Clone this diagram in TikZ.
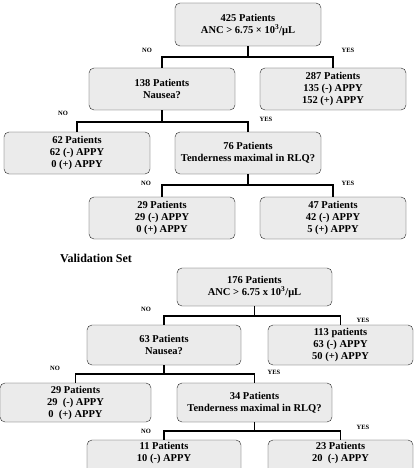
\documentclass[tikz,border=0pt]{standalone}
\usepackage{fontspec}
\setmainfont{Liberation Serif}
\usetikzlibrary{arrows}
\definecolor{boxgray}{HTML}{EBEBEB}
\tikzstyle{leaf} = [draw=black!85, fill=boxgray, rounded corners=5pt, inner sep=1pt,
  align=center, font=\fontsize{10.5}{12}\selectfont\bfseries]
\tikzstyle{edge} = [line width=1.8pt]
\tikzstyle{answer} = [font=\fontsize{6.5}{7}\selectfont\bfseries, inner sep=0pt]

\begin{document}
\begin{tikzpicture}[x=1pt, y=-1pt]
    \clip (0,0) rectangle (414,468);
    \useasboundingbox (0,0) rectangle (414,468);
    % derivation set
    \node[leaf,minimum width=146,minimum height=43] (anc) at (248,24.5)
        {425 Patients\\ANC > 6.75 × 10\textsuperscript{3}/μL};
    \node[leaf,minimum width=146,minimum height=42] (nausea) at (162,89)
        {138 Patients\\Nausea?};
    \node[leaf,minimum width=146,minimum height=42] (yesA) at (333,89)
        {287 Patients\\135 (-) APPY\\152 (+) APPY};
    \node[leaf,minimum width=146,minimum height=42] (noN) at (77,153)
        {62 Patients\\62 (-) APPY\\0 (+) APPY};
    \node[leaf,minimum width=146,minimum height=42] (rlq) at (248,153)
        {76 Patients\\Tenderness maximal in RLQ?};
    \node[leaf,minimum width=146,minimum height=42] (noR) at (162,218)
        {29 Patients\\29 (-) APPY\\0 (+) APPY};
    \node[leaf,minimum width=146,minimum height=42] (yesR) at (333,218)
        {47 Patients\\42 (-) APPY\\5 (+) APPY};
    \draw[edge] (anc.south) -- ++(0,11) coordinate (j1);
    \draw[edge] (nausea.north) |- (j1) -| (yesA.north);
    \draw[edge] (nausea.south) -- ++(0,12) coordinate (j2);
    \draw[edge] (noN.north) |- (j2) -| (rlq.north);
    \draw[edge] (rlq.south) -- ++(0,11) coordinate (j3);
    \draw[edge] (noR.north) |- (j3) -| (yesR.north);
    \node[answer] (n1) at (147,50) {NO};
    \node[answer] (y1) at (348,50) {YES};
    \node[answer] (n2) at (63,113) {NO};
    \node[answer] (y2) at (266,119) {YES};
    \node[answer] (n3) at (146,183) {NO};
    \node[answer] (y3) at (348,183) {YES};
    % validation set
    \node[font=\fontsize{12}{14}\selectfont\bfseries] (vset) at (96,258) {Validation Set};
    \node[leaf,minimum width=155,minimum height=38] (vanc) at (254.5,287)
        {176 Patients\\ANC > 6.75 x 10\textsuperscript{3}/μL};
    \node[leaf,minimum width=154,minimum height=40] (vnausea) at (164,345)
        {63 Patients\\Nausea?};
    \node[leaf,minimum width=145,minimum height=40] (vyesA) at (340.5,345)
        {113 patients\\63 (-) APPY\\50 (+) APPY};
    \node[leaf,minimum width=151,minimum height=39] (vnoN) at (75.5,402.5)
        {29 Patients\\29~~(-) APPY\\0~~(+) APPY};
    \node[leaf,minimum width=155,minimum height=39] (vrlq) at (254.5,402.5)
        {34 Patients\\Tenderness maximal in RLQ?};
    \node[leaf,minimum width=154,minimum height=40] (vnoR) at (164,460)
        {11 Patients\\10 (-) APPY\\\strut};
    \node[leaf,minimum width=145,minimum height=40] (vyesR) at (340.5,460)
        {23 Patients\\20~~(-) APPY\\\strut};
    \draw[edge] (vanc.south) -- ++(0,10) coordinate (k1);
    \draw[edge] (vnausea.north) |- (k1) -| (vyesA.north);
    \draw[edge] (vnausea.south) -- ++(0,9) coordinate (k2);
    \draw[edge] (vnoN.north) |- (k2) -| (vrlq.north);
    \draw[edge] (vrlq.south) -- ++(0,9) coordinate (k3);
    \draw[edge] (vnoR.north) |- (k3) -| (vyesR.north);
    \node[answer] (vn1) at (146,309) {NO};
    \node[answer] (vy1) at (363,320) {YES};
    \node[answer] (vn2) at (55,368) {NO};
    \node[answer] (vy2) at (274,372) {YES};
    \node[answer] (vn3) at (146,431) {NO};
    \node[answer] (vy3) at (363,427) {YES};
\end{tikzpicture}
\end{document}
